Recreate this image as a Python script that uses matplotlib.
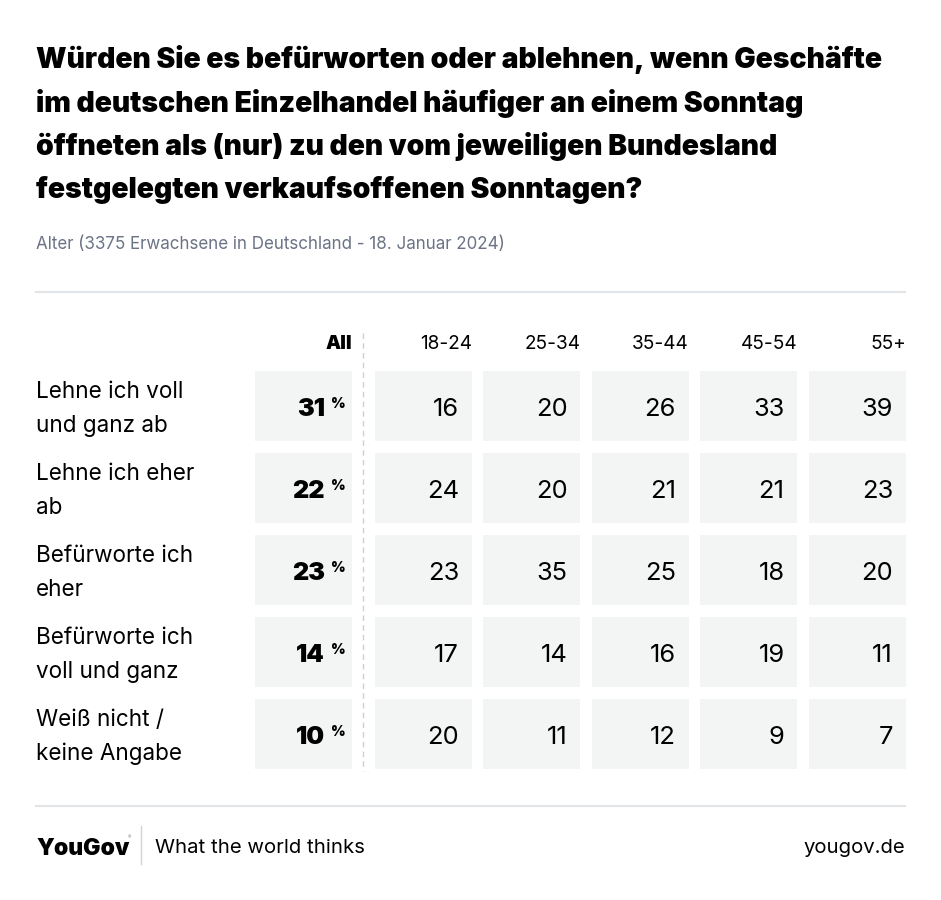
import matplotlib.pyplot as plt
from matplotlib.patches import Rectangle

title_lines = ["Würden Sie es befürworten oder ablehnen, wenn Geschäfte",
               "im deutschen Einzelhandel häufiger an einem Sonntag",
               "öffneten als (nur) zu den vom jeweiligen Bundesland",
               "festgelegten verkaufsoffenen Sonntagen?"]
subtitle = "Alter (3375 Erwachsene in Deutschland - 18. Januar 2024)"

answers = [["Lehne ich voll", "und ganz ab"], ["Lehne ich eher", "ab"], ["Befürworte ich", "eher"],
           ["Befürworte ich", "voll und ganz"], ["Weiß nicht /", "keine Angabe"]]
all_values = [31, 22, 23, 14, 10]
age_groups = ["18-24", "25-34", "35-44", "45-54", "55+"]
age_values = [
    [16, 20, 26, 33, 39],
    [24, 20, 21, 21, 23],
    [23, 35, 25, 18, 20],
    [17, 14, 16, 19, 11],
    [20, 11, 12, 9, 7],
]

plt.rcParams["font.family"] = ["Inter", "DejaVu Sans"]

W, H = 941, 900
fig = plt.figure(figsize=(W / 100, H / 100), dpi=100)
ax = fig.add_axes([0, 0, 1, 1])
ax.set_xlim(0, W)
ax.set_ylim(H, 0)
ax.axis("off")

def px(s):
    return s * 72 / 100

cell_bg = "#f3f4f4"
rule = "#e1e5e8"

for k, line in enumerate(title_lines):
    ax.text(36, 68 + k * 43.5, line, fontsize=px(28.3), fontweight=900, va="baseline", ha="left",
            color="#000000")
ax.text(36, 249, subtitle, fontsize=px(17), color="#6b7385", va="baseline")
ax.plot([36, 905], [292, 292], color=rule, lw=1.5)

# column layout
all_left, all_right = 255, 352
col_w, col_gap = 97, 11.5
first_left = 375
row_top, row_h, row_gap = 371, 70, 12

ax.text(all_right, 349, "All", fontsize=px(19), fontweight=900, ha="right", va="baseline")
for j, g in enumerate(age_groups):
    right = first_left + j * (col_w + col_gap) + col_w
    ax.text(right, 349, g, fontsize=px(19), ha="right", va="baseline")

ax.plot([363, 363], [333, 771], color="#cdd1d5", lw=1, ls=(0, (4, 3)))

for i, (lab, av, row) in enumerate(zip(answers, all_values, age_values)):
    top = row_top + i * (row_h + row_gap)
    ax.text(36, top + 27, lab[0], fontsize=px(22.5), va="baseline", ha="left")
    ax.text(36, top + 61, lab[1], fontsize=px(22.5), va="baseline", ha="left")
    ax.add_patch(Rectangle((all_left, top), all_right - all_left, row_h, color=cell_bg, lw=0))
    ax.text(325, top + 45, str(av), fontsize=px(25), fontweight=900, ha="right", va="baseline")
    ax.text(331, top + 37, "%", fontsize=px(14), fontweight=900, ha="left", va="baseline")
    for j, v in enumerate(row):
        left = first_left + j * (col_w + col_gap)
        ax.add_patch(Rectangle((left, top), col_w, row_h, color=cell_bg, lw=0))
        ax.text(left + col_w - 13, top + 45, str(v), fontsize=px(25.5), ha="right", va="baseline")

ax.plot([36, 905], [806, 806], color=rule, lw=1.5)

ax.text(36, 855, "YouGov", fontsize=px(23), fontweight=900, va="baseline", ha="left")
ax.text(128, 838, "®", fontsize=px(5), va="center", ha="left", color="#888888")
ax.plot([141, 141], [826, 864], color="#d0d4d8", lw=1)
ax.text(155, 853, "What the world thinks", fontsize=px(20.3), va="baseline", ha="left")
ax.text(905, 853, "yougov.de", fontsize=px(20.3), va="baseline", ha="right")

fig.savefig("out.png", dpi=100, facecolor="white")
